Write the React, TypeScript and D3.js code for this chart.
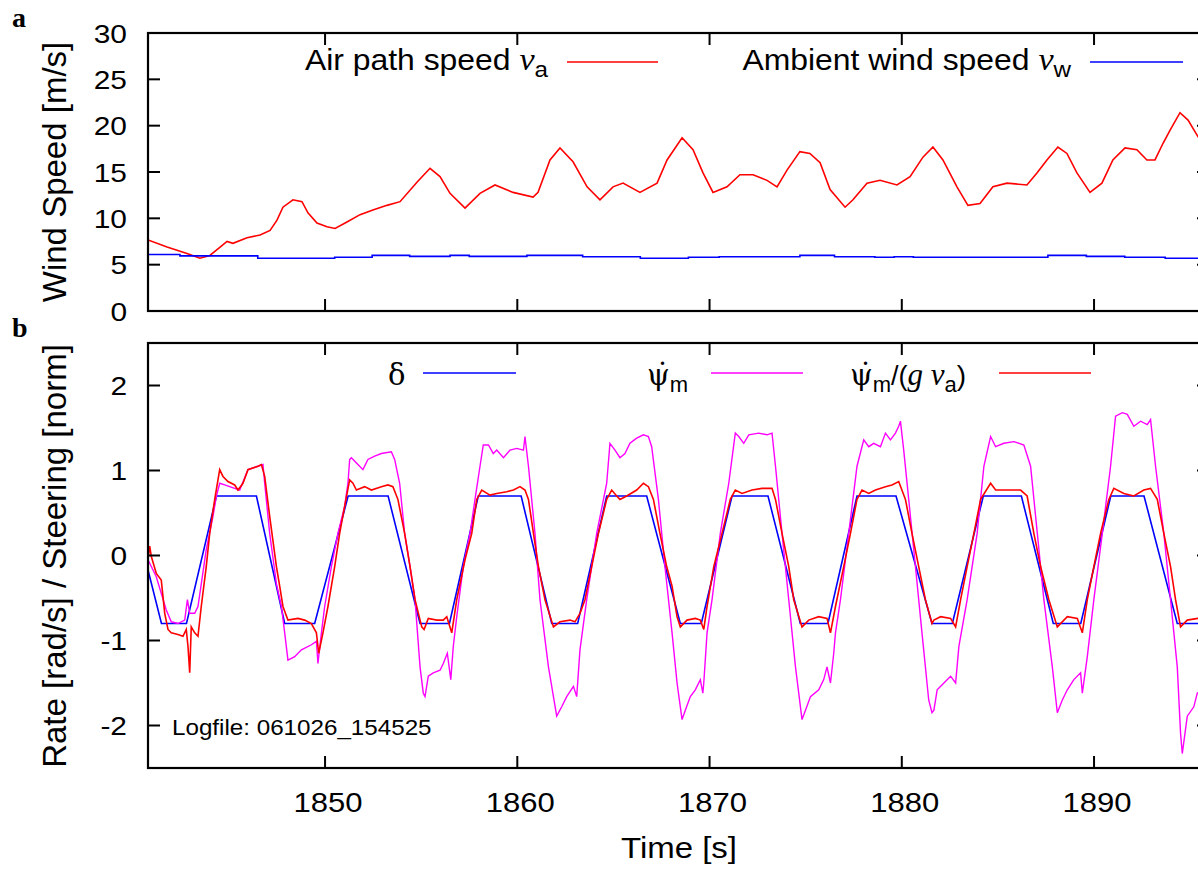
import React from 'react';
import * as d3 from 'd3';

// ---------- data ----------
const timeTicks = [1850, 1860, 1870, 1880, 1890];
const speedTicks = [0, 5, 10, 15, 20, 25, 30];
const rateTicks = [-2, -1, 0, 1, 2];

// Air path speed v_a [m/s]
const airSpeed: [number, number][] = [
  [1840.79, 7.66], [1841.78, 6.9], [1842.82, 6.2], [1843.49, 5.7], [1844.01, 6.0], [1844.54, 6.9],
  [1844.9, 7.5], [1845.21, 7.3], [1845.94, 7.9], [1846.62, 8.2], [1847.14, 8.7], [1847.5, 9.8],
  [1847.81, 11.2], [1848.33, 12.0], [1848.8, 11.8], [1849.11, 10.6], [1849.58, 9.5], [1850.1, 9.1],
  [1850.52, 8.9], [1851.14, 9.6], [1851.82, 10.4], [1852.49, 10.9], [1853.22, 11.4], [1853.9, 11.8],
  [1854.78, 13.9], [1855.46, 15.4], [1855.98, 14.5], [1856.5, 12.7], [1857.28, 11.1], [1858.06, 12.7],
  [1858.84, 13.6], [1859.78, 12.8], [1860.82, 12.3], [1861.08, 12.8], [1861.7, 16.3], [1862.22, 17.6],
  [1862.9, 16.1], [1863.63, 13.4], [1864.3, 12.0], [1864.98, 13.4], [1865.5, 13.8], [1866.38, 12.8],
  [1867.27, 13.8], [1867.79, 16.3], [1868.57, 18.7], [1869.14, 17.4], [1869.66, 14.9], [1870.18, 12.8],
  [1870.91, 13.4], [1871.58, 14.7], [1872.26, 14.7], [1872.99, 14.1], [1873.51, 13.4], [1874.03, 15.2],
  [1874.7, 17.2], [1875.22, 17.0], [1875.75, 16.0], [1876.27, 13.1], [1877.05, 11.2], [1877.46, 12.0],
  [1878.19, 13.8], [1878.87, 14.1], [1879.75, 13.6], [1880.43, 14.5], [1881.1, 16.6], [1881.62, 17.7],
  [1882.14, 16.3], [1882.87, 13.4], [1883.44, 11.4], [1884.07, 11.6], [1884.74, 13.4], [1885.47, 13.8],
  [1886.51, 13.6], [1887.03, 14.9], [1887.55, 16.3], [1888.12, 17.7], [1888.59, 17.0], [1889.11, 14.9],
  [1889.79, 12.8], [1890.41, 13.8], [1890.98, 16.3], [1891.61, 17.6], [1892.23, 17.4], [1892.75, 16.3],
  [1893.17, 16.3], [1893.59, 18.1], [1893.95, 19.5], [1894.47, 21.4], [1894.89, 20.6], [1895.41, 18.8],
  [1895.98, 17.6],
];

// Ambient wind speed v_w [m/s] (step values)
const windSpeed: [number, number][] = [
  [1840.79, 6.1], [1842.45, 5.95], [1846.5, 5.7], [1850.5, 5.8], [1852.45, 6.0], [1854.4, 5.9],
  [1856.5, 6.0], [1857.5, 5.9], [1860.5, 6.0], [1863.4, 5.85], [1866.4, 5.7], [1868.9, 5.8],
  [1870.5, 5.85], [1874.7, 6.0], [1876.5, 5.85], [1878.6, 5.8], [1879.6, 5.85], [1880.6, 5.8],
  [1887.6, 6.0], [1889.6, 5.9], [1891.6, 5.8], [1893.7, 5.7], [1895.98, 5.7],
];

// Steering delta [norm]
const steering: [number, number][] = [
  [1840.79, -0.17], [1841.49, -0.8], [1842.79, -0.8], [1844.35, 0.7], [1846.43, 0.7], [1847.9, -0.8],
  [1849.46, -0.8], [1851.2, 0.7], [1853.28, 0.7], [1854.94, -0.8], [1856.47, -0.8], [1857.97, 0.7],
  [1860.2, 0.7], [1861.79, -0.8], [1863.14, -0.8], [1864.65, 0.7], [1866.73, 0.7], [1868.48, -0.8],
  [1869.57, -0.8], [1871.17, 0.7], [1873.04, 0.7], [1874.72, -0.8], [1876.16, -0.8], [1877.67, 0.7],
  [1879.7, 0.7], [1881.57, -0.8], [1882.63, -0.8], [1884.24, 0.7], [1886.22, 0.7], [1887.88, -0.8],
  [1889.31, -0.8], [1890.87, 0.7], [1892.6, 0.7], [1894.33, -0.8], [1895.98, -0.8],
];

// Turn rate psi-dot_m [rad/s]
const turnRate: [number, number][] = [
  [1840.79, -0.05], [1841.22, -0.25], [1841.74, -0.64], [1842.0, -0.78], [1842.35, -0.8], [1842.7, -0.76],
  [1842.84, -0.52], [1842.96, -0.68], [1843.22, -0.68], [1843.39, -0.6], [1843.82, 0.07], [1844.17, 0.46],
  [1844.34, 0.69], [1844.52, 0.85], [1844.78, 0.83], [1845.3, 0.79], [1845.56, 0.77], [1845.99, 1.01],
  [1846.51, 1.05], [1846.77, 1.07], [1846.86, 0.85], [1847.12, 0.26], [1847.47, -0.33], [1847.73, -0.6],
  [1847.9, -0.91], [1848.07, -1.23], [1848.42, -1.19], [1848.77, -1.11], [1849.29, -1.05], [1849.55, -1.01],
  [1849.63, -1.27], [1849.81, -0.91], [1849.98, -0.6], [1850.33, -0.13], [1850.67, 0.26], [1851.02, 0.58],
  [1851.19, 0.85], [1851.28, 1.13], [1851.37, 1.15], [1851.71, 1.07], [1851.97, 1.01], [1852.23, 1.13],
  [1852.58, 1.17], [1852.93, 1.2], [1853.45, 1.22], [1853.62, 1.13], [1853.88, 0.85], [1854.14, 0.26],
  [1854.42, -0.13], [1854.68, -0.52], [1854.94, -1.31], [1855.11, -1.62], [1855.2, -1.66], [1855.37, -1.42],
  [1855.63, -1.38], [1855.98, -1.35], [1856.15, -1.27], [1856.36, -1.15], [1856.54, -1.46], [1856.67, -1.07],
  [1856.85, -0.72], [1857.19, -0.13], [1857.54, 0.26], [1857.8, 0.66], [1858.06, 1.05], [1858.23, 1.3],
  [1858.5, 1.3], [1858.75, 1.2], [1858.93, 1.24], [1859.28, 1.15], [1859.62, 1.24], [1859.97, 1.26],
  [1860.32, 1.24], [1860.4, 1.4], [1860.58, 1.05], [1860.92, 0.26], [1861.18, -0.52], [1861.62, -1.31],
  [1862.05, -1.89], [1862.31, -1.78], [1862.57, -1.66], [1862.92, -1.54], [1863.09, -1.66], [1863.26, -1.11],
  [1863.61, -0.52], [1864.13, 0.26], [1864.65, 0.85], [1864.82, 1.32], [1865.08, 1.24], [1865.34, 1.15],
  [1865.6, 1.2], [1865.86, 1.32], [1866.21, 1.38], [1866.56, 1.42], [1866.82, 1.4], [1866.99, 1.28],
  [1867.34, 0.66], [1867.68, -0.13], [1868.05, -0.91], [1868.31, -1.5], [1868.57, -1.93], [1868.74, -1.82],
  [1869.0, -1.66], [1869.26, -1.58], [1869.52, -1.46], [1869.65, -1.62], [1869.7, -1.5], [1869.87, -0.91],
  [1870.13, -0.52], [1870.56, 0.26], [1871.0, 0.85], [1871.34, 1.44], [1871.52, 1.4], [1871.78, 1.32],
  [1872.04, 1.42], [1872.56, 1.44], [1872.99, 1.42], [1873.25, 1.44], [1873.43, 1.05], [1873.77, 0.26],
  [1874.12, -0.52], [1874.47, -1.31], [1874.81, -1.93], [1874.99, -1.82], [1875.25, -1.66], [1875.68, -1.58],
  [1875.94, -1.46], [1876.11, -1.31], [1876.29, -1.5], [1876.46, -1.15], [1876.55, -0.91], [1876.81, -0.52],
  [1877.24, 0.26], [1877.67, 1.05], [1878.02, 1.36], [1878.28, 1.28], [1878.54, 1.32], [1878.89, 1.28],
  [1879.15, 1.44], [1879.41, 1.36], [1879.67, 1.44], [1879.84, 1.52], [1879.93, 1.58], [1880.1, 1.24],
  [1880.36, 0.66], [1880.71, -0.13], [1881.05, -0.91], [1881.4, -1.7], [1881.57, -1.85], [1881.67, -1.82],
  [1881.84, -1.58], [1882.19, -1.5], [1882.54, -1.42], [1882.8, -1.5], [1882.97, -1.07], [1883.4, -0.52],
  [1883.92, 0.26], [1884.27, 1.05], [1884.62, 1.4], [1884.88, 1.28], [1885.31, 1.32], [1885.83, 1.34],
  [1886.35, 1.3], [1886.7, 1.05], [1887.05, 0.26], [1887.39, -0.52], [1887.83, -1.31], [1888.09, -1.85],
  [1888.35, -1.7], [1888.61, -1.58], [1888.95, -1.46], [1889.3, -1.38], [1889.39, -1.62], [1889.65, -1.19],
  [1889.99, -0.52], [1890.43, 0.26], [1890.86, 1.05], [1891.12, 1.64], [1891.47, 1.68], [1891.73, 1.66],
  [1892.07, 1.52], [1892.42, 1.58], [1892.77, 1.54], [1892.94, 1.6], [1893.2, 1.05], [1893.63, 0.26],
  [1893.98, -0.52], [1894.33, -1.31], [1894.5, -2.09], [1894.59, -2.33], [1894.85, -1.89], [1895.19, -1.78],
  [1895.37, -1.62], [1895.98, -1.5],
];

// Normalised turn rate psi-dot_m / (g v_a)
const normRate: [number, number][] = [
  [1840.79, -0.05], [1840.88, 0.11], [1840.96, -0.01], [1841.22, -0.21], [1841.48, -0.29], [1841.66, -0.68],
  [1841.83, -0.87], [1842.0, -0.91], [1842.35, -0.93], [1842.61, -0.95], [1842.78, -0.87], [1842.87, -1.07],
  [1842.96, -1.38], [1843.04, -0.84], [1843.22, -0.91], [1843.39, -0.95], [1843.56, -0.6], [1843.82, -0.13],
  [1844.0, 0.26], [1844.26, 0.66], [1844.43, 0.89], [1844.52, 1.01], [1844.69, 0.93], [1844.95, 0.87],
  [1845.3, 0.83], [1845.47, 0.77], [1845.73, 0.85], [1845.99, 1.01], [1846.51, 1.05], [1846.69, 1.07],
  [1846.86, 0.93], [1847.12, 0.46], [1847.47, -0.13], [1847.64, -0.36], [1847.81, -0.6], [1848.07, -0.76],
  [1848.59, -0.74], [1848.94, -0.76], [1849.29, -0.8], [1849.55, -0.91], [1849.67, -1.15], [1849.89, -0.91],
  [1850.15, -0.6], [1850.5, -0.13], [1850.76, 0.26], [1851.02, 0.58], [1851.28, 0.89], [1851.45, 0.85],
  [1851.63, 0.77], [1852.06, 0.81], [1852.41, 0.77], [1852.93, 0.81], [1853.27, 0.83], [1853.53, 0.81],
  [1853.79, 0.66], [1854.14, 0.26], [1854.42, -0.13], [1854.68, -0.52], [1855.03, -0.84], [1855.15, -0.87],
  [1855.37, -0.74], [1855.81, -0.76], [1856.15, -0.76], [1856.33, -0.72], [1856.59, -0.91], [1856.85, -0.52],
  [1857.28, -0.05], [1857.63, 0.26], [1857.89, 0.66], [1858.15, 0.77], [1858.58, 0.71], [1858.93, 0.73],
  [1859.45, 0.75], [1859.8, 0.77], [1860.14, 0.81], [1860.4, 0.77], [1860.58, 0.66], [1860.84, 0.26],
  [1861.1, -0.13], [1861.44, -0.52], [1861.88, -0.84], [1862.22, -0.78], [1862.74, -0.76], [1863.0, -0.78],
  [1863.26, -0.68], [1863.52, -0.52], [1863.87, -0.13], [1864.22, 0.26], [1864.65, 0.66], [1864.91, 0.77],
  [1865.17, 0.7], [1865.34, 0.66], [1865.69, 0.7], [1866.21, 0.77], [1866.56, 0.85], [1866.82, 0.81],
  [1867.08, 0.66], [1867.42, 0.26], [1867.77, -0.13], [1868.05, -0.36], [1868.31, -0.72], [1868.48, -0.84],
  [1868.83, -0.76], [1869.26, -0.74], [1869.52, -0.76], [1869.7, -0.87], [1869.87, -0.6], [1870.22, -0.13],
  [1870.65, 0.26], [1871.08, 0.66], [1871.34, 0.77], [1871.69, 0.73], [1872.21, 0.77], [1872.73, 0.79],
  [1873.25, 0.79], [1873.43, 0.66], [1873.77, 0.26], [1874.12, -0.13], [1874.38, -0.52], [1874.81, -0.84],
  [1875.16, -0.76], [1875.68, -0.72], [1876.11, -0.74], [1876.29, -0.91], [1876.55, -0.6], [1876.98, -0.13],
  [1877.33, 0.26], [1877.67, 0.66], [1877.93, 0.77], [1878.28, 0.73], [1878.63, 0.77], [1879.15, 0.81],
  [1879.49, 0.83], [1879.84, 0.87], [1880.19, 0.66], [1880.53, 0.26], [1880.88, -0.13], [1881.23, -0.52],
  [1881.57, -0.8], [1881.67, -0.76], [1882.02, -0.72], [1882.54, -0.74], [1882.8, -0.84], [1883.06, -0.52],
  [1883.4, -0.13], [1883.75, 0.26], [1884.1, 0.66], [1884.62, 0.85], [1884.88, 0.77], [1885.48, 0.77],
  [1886.18, 0.77], [1886.52, 0.7], [1886.87, 0.26], [1887.22, -0.13], [1887.65, -0.52], [1888.09, -0.84],
  [1888.61, -0.72], [1889.13, -0.74], [1889.39, -0.91], [1889.65, -0.52], [1889.99, -0.13], [1890.34, 0.26],
  [1890.77, 0.66], [1891.03, 0.79], [1891.55, 0.73], [1892.07, 0.7], [1892.59, 0.77], [1892.94, 0.79],
  [1893.29, 0.66], [1893.63, 0.26], [1893.98, -0.13], [1894.24, -0.52], [1894.5, -0.84], [1894.85, -0.76],
  [1895.4, -0.74], [1895.98, -0.76],
];

// ---------- layout ----------
const W = 1198;
const H = 869;
const LEFT = 148;
const RIGHT = 1209;
const A_TOP = 33, A_BOT = 311;
const B_TOP = 343, B_BOT = 768;
const TICK = 12;
const SANS = "'Liberation Sans', Arial, Helvetica, sans-serif";
const SERIF = "'Liberation Serif', 'Times New Roman', serif";
const GREEK = "'DejaVu Serif', 'Liberation Serif', serif";
const RED = '#ff0000', BLUE = '#0000ff', MAGENTA = '#ff00ff';

const x = d3.scaleLinear().domain([1840.79, 1895.98]).range([LEFT, RIGHT]);
const yA = d3.scaleLinear().domain([0, 30]).range([A_BOT, A_TOP]);
const yB = d3.scaleLinear().domain([-2.5, 2.5]).range([B_BOT, B_TOP]);

function ST({ x: px, y: py, size, anchor = 'start', sx = 1.12, children, family = SANS, weight = 'normal' }: any) {
  return (
    <g transform={`translate(${px},${py}) scale(${sx},1)`}>
      <text x={0} y={0} fontSize={size} textAnchor={anchor} fontFamily={family} fontWeight={weight} fill="#000">
        {children}
      </text>
    </g>
  );
}

function Frame({ top, bot, y, ticks }: any) {
  return (
    <g>
      {timeTicks.map((t) => (
        <g key={'xt' + t}>
          <line x1={x(t)} x2={x(t)} y1={bot} y2={bot - TICK} stroke="#000" strokeWidth={2} />
          <line x1={x(t)} x2={x(t)} y1={top} y2={top + TICK} stroke="#000" strokeWidth={2} />
        </g>
      ))}
      {ticks.map((v: number) => (
        <g key={'yt' + v}>
          <line x1={LEFT} x2={LEFT + TICK} y1={y(v)} y2={y(v)} stroke="#000" strokeWidth={2} />
          <line x1={RIGHT} x2={RIGHT - TICK} y1={y(v)} y2={y(v)} stroke="#000" strokeWidth={2} />
          <ST x={127} y={y(v) + 9.5} size={26} anchor="end" sx={1.15}>
            {v < 0 ? '-' + Math.abs(v) : String(v)}
          </ST>
        </g>
      ))}
      <rect x={LEFT} y={top} width={RIGHT - LEFT} height={bot - top} fill="none" stroke="#000" strokeWidth={2.2} />
    </g>
  );
}

export default function App() {
  const lineA = d3.line<[number, number]>().x((d) => x(d[0])).y((d) => yA(d[1]));
  const stepA = d3.line<[number, number]>().x((d) => x(d[0])).y((d) => yA(d[1])).curve(d3.curveStepAfter);
  const lineB = d3.line<[number, number]>().x((d) => x(d[0])).y((d) => yB(d[1]));

  return (
    <svg width={W} height={H} style={{ position: 'absolute', left: 0, top: 0, background: '#fff' }}>
      <defs>
        <clipPath id="clipA"><rect x={LEFT} y={A_TOP} width={RIGHT - LEFT} height={A_BOT - A_TOP} /></clipPath>
        <clipPath id="clipB"><rect x={LEFT} y={B_TOP} width={RIGHT - LEFT} height={B_BOT - B_TOP} /></clipPath>
      </defs>
      <rect x={0} y={0} width={W} height={H} fill="#fff" />

      {/* panel labels */}
      <text x={12} y={27} fontSize={28} fontWeight="bold" fontFamily={SERIF}>a</text>
      <text x={12} y={337} fontSize={28} fontWeight="bold" fontFamily={SERIF}>b</text>

      {/* ---------- panel a ---------- */}
      <g clipPath="url(#clipA)">
        <path d={lineA(airSpeed) || ''} fill="none" stroke={RED} strokeWidth={1.6} />
        <path d={stepA(windSpeed) || ''} fill="none" stroke={BLUE} strokeWidth={1.6} />
      </g>
      <Frame top={A_TOP} bot={A_BOT} y={yA} ticks={speedTicks} />
      <text transform={`translate(66,172) rotate(-90)`} textAnchor="middle" fontSize={33} fontFamily={SANS}>Wind Speed [m/s]</text>

      {/* legend a */}
      <g transform="translate(548,70) scale(1.1,1)">
        <text textAnchor="end" fontSize={29} fontFamily={SANS}>
          Air path speed{' '}
          <tspan fontFamily={SERIF} fontStyle="italic" fontSize={31}>v</tspan>
          <tspan fontSize={22} dy={7}>a</tspan>
        </text>
      </g>
      <line x1={567} x2={658} y1={62} y2={62} stroke={RED} strokeWidth={1.6} />
      <g transform="translate(1071,70) scale(1.1,1)">
        <text textAnchor="end" fontSize={29} fontFamily={SANS}>
          Ambient wind speed{' '}
          <tspan fontFamily={SERIF} fontStyle="italic" fontSize={31}>v</tspan>
          <tspan fontSize={22} dy={7}>w</tspan>
        </text>
      </g>
      <line x1={1090} x2={1183} y1={62} y2={62} stroke={BLUE} strokeWidth={1.6} />

      {/* ---------- panel b ---------- */}
      <g clipPath="url(#clipB)">
        <path d={lineB(steering) || ''} fill="none" stroke={BLUE} strokeWidth={1.6} />
        <path d={lineB(turnRate) || ''} fill="none" stroke={MAGENTA} strokeWidth={1.4} />
        <path d={lineB(normRate) || ''} fill="none" stroke={RED} strokeWidth={1.6} />
      </g>
      <Frame top={B_TOP} bot={B_BOT} y={yB} ticks={rateTicks} />
      <text transform={`translate(66,556) rotate(-90)`} textAnchor="middle" fontSize={33} fontFamily={SANS}>Rate [rad/s] / Steering [norm]</text>

      {/* legend b */}
      <text x={388} y={385} fontSize={29} fontFamily={GREEK}>δ</text>
      <line x1={423} x2={516} y1={373} y2={373} stroke={BLUE} strokeWidth={1.6} />
      <text x={647} y={385} fontSize={29} fontFamily={GREEK}>
        ψ̇<tspan fontFamily={SANS} fontSize={22} dy={7}>m</tspan>
      </text>
      <line x1={711} x2={803} y1={373} y2={373} stroke={MAGENTA} strokeWidth={1.6} />
      <text x={850} y={385} fontSize={29} fontFamily={GREEK}>
        ψ̇<tspan fontFamily={SANS} fontSize={22} dy={7}>m</tspan>
        <tspan fontFamily={SANS} fontSize={27} dy={-7}>/(</tspan>
        <tspan fontFamily={SERIF} fontStyle="italic" fontSize={31}>g </tspan>
        <tspan fontFamily={SERIF} fontStyle="italic" fontSize={31}>v</tspan>
        <tspan fontFamily={SANS} fontSize={22} dy={7}>a</tspan>
        <tspan fontFamily={SANS} fontSize={28} dy={-7}>)</tspan>
      </text>
      <line x1={999} x2={1091} y1={373} y2={373} stroke={RED} strokeWidth={1.6} />

      <ST x={172} y={735} size={22} sx={1.1}>Logfile: 061026_154525</ST>

      {/* x axis labels */}
      {timeTicks.map((t) => (
        <ST key={'xl' + t} x={x(t) + 3} y={812} size={27} anchor="middle" sx={1.15}>{String(t)}</ST>
      ))}
      <ST x={679} y={858} size={30} anchor="middle" sx={1.1}>Time [s]</ST>
    </svg>
  );
}
